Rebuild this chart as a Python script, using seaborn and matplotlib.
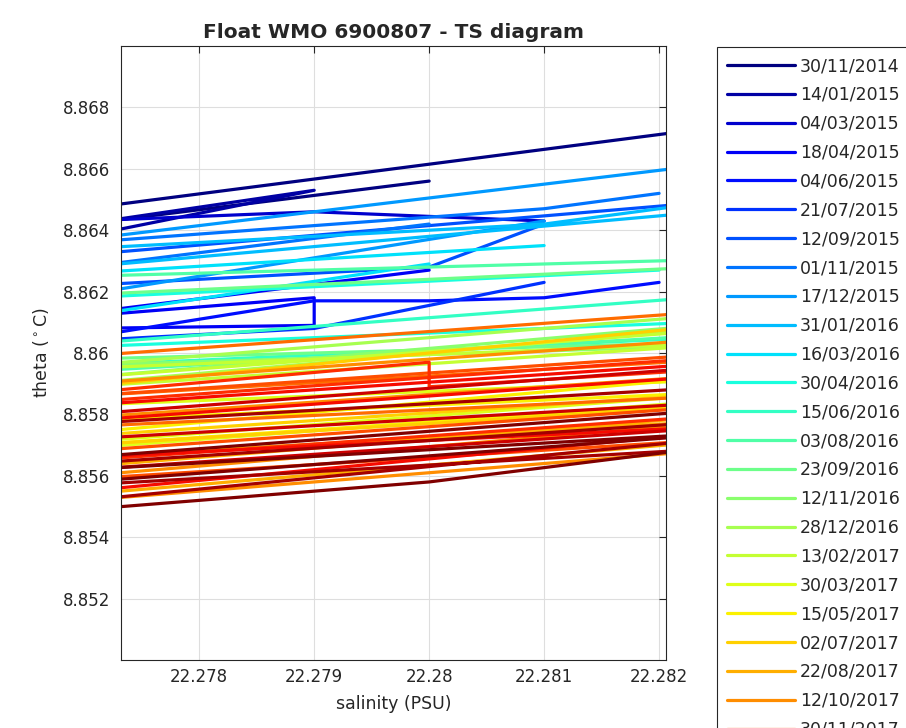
import numpy as np
import matplotlib
matplotlib.use("Agg")
import matplotlib.pyplot as plt
import seaborn as sns

# profile dates (one TS profile each)
dates = ["30/11/2014", "14/01/2015", "04/03/2015", "18/04/2015", "04/06/2015",
         "21/07/2015", "12/09/2015", "01/11/2015", "17/12/2015", "31/01/2016",
         "16/03/2016", "30/04/2016", "15/06/2016", "03/08/2016", "23/09/2016",
         "12/11/2016", "28/12/2016", "13/02/2017", "30/03/2017", "15/05/2017",
         "02/07/2017", "22/08/2017", "12/10/2017", "30/11/2017", "18/01/2018",
         "07/03/2018", "24/04/2018", "10/06/2018", "28/07/2018", "16/09/2018"]
# legend rows that fit in the figure (the last one is cut by the bottom edge)
n_legend = 24

# salinity / theta points of each profile (zoomed window)
sal_profiles = [
    [22.283, 22.277, 22.277, 22.280],
    [22.277, 22.279, 22.277],
    [22.277, 22.279, 22.281],
    [22.280, 22.277, 22.277, 22.279, 22.279, 22.277],
    [22.277, 22.279, 22.280, 22.281, 22.282],
    [22.277, 22.279, 22.281],
    [22.283, 22.277, 22.277, 22.280, 22.281],
    [22.280, 22.277, 22.277, 22.281, 22.282],
    [22.283, 22.277, 22.277, 22.281],
    [22.283, 22.281, 22.277, 22.277, 22.283],
    [22.280, 22.277, 22.277, 22.281],
    [22.282, 22.277, 22.277, 22.283],
    [22.277, 22.283, 22.283, 22.277],
    [22.277, 22.283, 22.283, 22.277],
    [22.277, 22.283, 22.283, 22.277],
    [22.277, 22.283, 22.283, 22.277],
    [22.277, 22.283, 22.283, 22.277],
    [22.277, 22.283, 22.283, 22.277, 22.277, 22.283],
    [22.277, 22.283, 22.283, 22.277, 22.277, 22.283],
    [22.277, 22.283, 22.283, 22.277, 22.277, 22.283],
    [22.277, 22.283, 22.283, 22.277, 22.277, 22.283],
    [22.277, 22.283, 22.283, 22.277, 22.277, 22.283],
    [22.277, 22.283, 22.283, 22.277, 22.277, 22.283, 22.283, 22.277],
    [22.277, 22.283, 22.283, 22.277, 22.277, 22.283],
    [22.277, 22.283, 22.283, 22.277, 22.277, 22.283],
    [22.277, 22.283, 22.283, 22.277, 22.277, 22.280, 22.280, 22.283],
    [22.277, 22.283, 22.283, 22.277, 22.277, 22.283, 22.283, 22.277],
    [22.277, 22.283, 22.283, 22.277, 22.277, 22.283],
    [22.277, 22.283, 22.283, 22.277, 22.277, 22.283, 22.283, 22.277],
    [22.277, 22.283, 22.283, 22.277, 22.277, 22.280, 22.283, 22.283, 22.277],
]
theta_profiles = [
    [8.8676, 8.8647, 8.8642, 8.8656],
    [8.8638, 8.8653, 8.8642],
    [8.8643, 8.8646, 8.8643],
    [8.8627, 8.8613, 8.8612, 8.8618, 8.8609, 8.8608],
    [8.8605, 8.8617, 8.8617, 8.8618, 8.8623],
    [8.8604, 8.8608, 8.8623],
    [8.8651, 8.8632, 8.8622, 8.8628, 8.8642],
    [8.8642, 8.8628, 8.8636, 8.8647, 8.8652],
    [8.8664, 8.8637, 8.8619, 8.8643],
    [8.8652, 8.8642, 8.8634, 8.8628, 8.8648],
    [8.8629, 8.8612, 8.8626, 8.8635],
    [8.8627, 8.8618, 8.8602, 8.8611],
    [8.8603, 8.8620, 8.8606, 8.8596],
    [8.8625, 8.8631, 8.8607, 8.8594],
    [8.8619, 8.8629, 8.8604, 8.8598],
    [8.8592, 8.8611, 8.8603, 8.8596],
    [8.8590, 8.8610, 8.8614, 8.8596],
    [8.8592, 8.8609, 8.8604, 8.8595, 8.8589, 8.8604],
    [8.8571, 8.8588, 8.8586, 8.8569, 8.8583, 8.8592],
    [8.8570, 8.8585, 8.8594, 8.8574, 8.8578, 8.8588],
    [8.8589, 8.8611, 8.8588, 8.8573, 8.8570, 8.8584],
    [8.8554, 8.8573, 8.8579, 8.8566, 8.8563, 8.8581],
    [8.8590, 8.8606, 8.8579, 8.8560, 8.8579, 8.8594, 8.8570, 8.8552],
    [8.8599, 8.8615, 8.8587, 8.8576, 8.8586, 8.8599],
    [8.8586, 8.8601, 8.8584, 8.8568, 8.8559, 8.8573],
    [8.8584, 8.8600, 8.8581, 8.8565, 8.8587, 8.8597, 8.8589, 8.8596],
    [8.8583, 8.8598, 8.8576, 8.8555, 8.8578, 8.8594, 8.8577, 8.8566],
    [8.8580, 8.8597, 8.8577, 8.8562, 8.8572, 8.8585],
    [8.8577, 8.8590, 8.8579, 8.8564, 8.8552, 8.8574, 8.8570, 8.8557],
    [8.8566, 8.8583, 8.8575, 8.8558, 8.8549, 8.8558, 8.8572, 8.8575, 8.8562],
]

xticks = [22.278, 22.279, 22.280, 22.281, 22.282]
xtick_labels = ["22.278", "22.279", "22.28", "22.281", "22.282"]
yticks = [8.852, 8.854, 8.856, 8.858, 8.860, 8.862, 8.864, 8.866, 8.868]
ytick_labels = ["8.852", "8.854", "8.856", "8.858", "8.86", "8.862", "8.864", "8.866", "8.868"]

sns.set_theme(style="whitegrid")
plt.rcParams['font.family'] = ['DejaVu Sans']

fig = plt.figure(figsize=(9.06, 7.28), dpi=100)
ax = fig.add_axes([0.1336, 0.0934, 0.6015, 0.8434])

colors = plt.get_cmap("jet")(np.linspace(0, 1, len(dates)))
for i in range(len(dates)):
    sns.lineplot(x=sal_profiles[i], y=theta_profiles[i], sort=False, estimator=None,
                 color=colors[i], lw=2.3, ax=ax, legend=False)

ax.set_xlim(22.27732, 22.28206)
ax.set_ylim(8.850, 8.870)
ax.set_xticks(xticks, xtick_labels)
ax.set_yticks(yticks, ytick_labels)
ax.tick_params(direction="in", length=5, width=0.8, top=True, right=True,
               labelsize=12, colors="0.15")
ax.tick_params(axis="y", pad=8)
ax.tick_params(axis="x", pad=6)
ax.grid(True, color="0.87", lw=0.8)
ax.set_facecolor("white")
for sp in ax.spines.values():
    sp.set_visible(True)
    sp.set_color("0.15")
    sp.set_linewidth(0.8)

ax.set_title("Float WMO 6900807 - TS diagram", fontsize=14.5, fontweight="bold", pad=6)
ax.set_xlabel("salinity (PSU)", fontsize=12.5, color="0.15", labelpad=6)
ax.set_ylabel("theta ($^\\circ$C)", fontsize=12.5, color="0.15", labelpad=8)

handles = ax.get_lines()[:n_legend]
leg = ax.legend(handles, dates[:n_legend], loc="upper left",
                bbox_to_anchor=(717 / 906, 1 - 47 / 728),
                bbox_transform=fig.transFigure, frameon=True, fancybox=False, framealpha=1,
                edgecolor="0.15", fontsize=12.5, handlelength=3.9, handletextpad=0.29,
                labelspacing=0.625, borderpad=0.58, borderaxespad=0)
leg.get_frame().set_linewidth(0.8)
for t in leg.get_texts():
    t.set_color("0.15")

fig.savefig("out.png", dpi=100, facecolor="white")
